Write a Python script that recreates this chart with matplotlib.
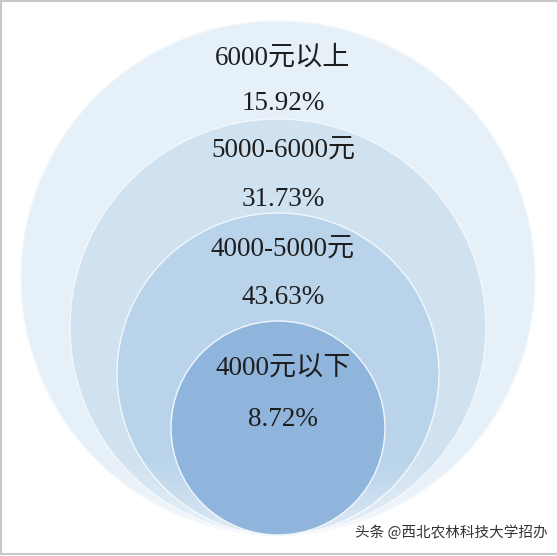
import matplotlib
matplotlib.use("Agg")
import matplotlib.pyplot as plt
import numpy as np
from matplotlib.patches import Circle

# ---- data ----
labels = ["6000元以上", "5000-6000元", "4000-5000元", "4000元以下"]
percents = [15.92, 31.73, 43.63, 8.72]

# ---- layout (pixels) ----
radii = [257, 208, 161, 107]
colors = ["#e6f0f8", "#d0e2f0", "#b9d4ea", "#8fb5dd"]
label_y = [58, 151, 250, 369]
pct_y = [103, 199, 297, 419]
cx, bottom = 278, 535
text_x = 283

W, H = 557, 556
fig = plt.figure(figsize=(W / 100, H / 100), dpi=100)
ax = fig.add_axes([0, 0, 1, 1])
ax.set_xlim(0, W)
ax.set_ylim(H, 0)
ax.set_aspect("auto")
ax.axis("off")

patches = []
for i, (r, c) in enumerate(zip(radii, colors)):
    p = Circle((cx, bottom - r), r, facecolor=c, edgecolor="#f2f7fc",
               linewidth=1.0, zorder=2 + i * 0.1 if i < 3 else 4)
    ax.add_patch(p)
    patches.append(p)

# soft white fade at the bottom of the outer rings
ys = np.linspace(0, 1, 200)
alpha = np.clip((ys - 0.82) / 0.18, 0, 1) ** 1.3 * 0.75
grad = np.ones((200, 1, 4))
grad[:, 0, 3] = alpha
im = ax.imshow(grad, extent=[0, W, H, 0], aspect="auto", zorder=3,
               interpolation="bilinear")
im.set_clip_path(patches[0])
ax.set_xlim(0, W)
ax.set_ylim(H, 0)

fam = ["Liberation Serif", "Noto Sans CJK SC"]
for lab, p, ly, py in zip(labels, percents, label_y, pct_y):
    ax.text(text_x, ly, lab, ha="center", va="center", fontsize=19.5,
            family=fam, color="#1e1e1e", zorder=5)
    ax.text(text_x, py, f"{p:.2f}%", ha="center", va="center", fontsize=19.5,
            family=fam, color="#1e1e1e", zorder=5)

# watermark
ax.text(548, 533, "头条 @西北农林科技大学招办", ha="right", va="center",
        fontsize=10.5, family=["Noto Sans CJK SC", "DejaVu Sans"], color="#333333",
        zorder=6)

# frame lines (left, top, bottom)
ax.plot([0.5, 0.5], [0, 554], color="#c8c8c8", lw=1.5, zorder=7)
ax.plot([0, W], [0.7, 0.7], color="#c8c8c8", lw=1.5, zorder=7)
ax.plot([0, W], [554, 554], color="#c8c8c8", lw=1.5, zorder=7)

fig.savefig("out.png", dpi=100, facecolor="white")
